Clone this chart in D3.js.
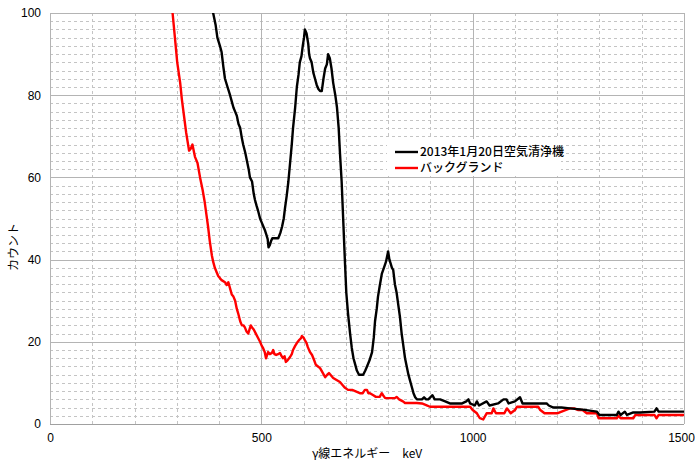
<!DOCTYPE html>
<html>
<head>
<meta charset="utf-8">
<script src="https://cdn.jsdelivr.net/npm/d3@7/dist/d3.min.js"></script>
<style>
  html, body { margin: 0; padding: 0; background: #fff; }
  svg { display: block; }
</style>
</head>
<body>
<svg id="chart" width="695" height="464"></svg>
<script>
// Gamma-ray spectrum: air purifier filter sample vs. background
const sampleLabel = "2013年1月20日空気清浄機";
const bgLabel = "バックグランド";

const sampleKeV = [370, 386, 392, 396, 402, 406, 410, 414, 420, 426, 430, 434, 438, 442, 446, 450, 454, 457, 462, 466, 470, 473, 478, 482, 485, 489, 492, 497, 501, 505, 509, 512, 515, 517, 520, 523, 526, 528, 534, 540, 545, 549, 553, 556, 560, 564, 568, 572, 575, 580, 584, 588, 591, 595, 598, 601, 603, 607, 611, 613, 615, 619, 623, 627, 631, 635, 639, 643, 647, 651, 655, 658, 662, 666, 670, 675, 679, 683, 686, 690, 694, 698, 701, 705, 710, 714, 718, 722, 726, 731, 736, 741, 746, 750, 756, 762, 766, 769, 773, 776, 780, 785, 790, 795, 800, 803, 806, 809, 812, 816, 820, 824, 828, 832, 836, 840, 844, 848, 852, 856, 860, 864, 868, 880, 885, 890, 895, 905, 910, 915, 923, 935, 946, 960, 975, 985, 990, 994, 1005, 1010, 1015, 1033, 1040, 1060, 1073, 1080, 1085, 1100, 1112, 1118, 1140, 1160, 1175, 1180, 1191, 1210, 1230, 1260, 1294, 1300, 1341, 1345, 1350, 1360, 1365, 1380, 1396, 1430, 1435, 1440, 1470, 1500];
const sampleCounts = [106, 100, 97, 94, 92, 90.5, 87, 84, 82, 80, 78.5, 77, 76, 75, 73, 72, 69.5, 68, 66, 64, 62, 60, 59, 56, 54.5, 53, 52, 50, 49, 48, 47, 46, 45, 43, 43.5, 44.5, 45.2, 45.2, 45.2, 45.2, 46.5, 48, 50, 52.5, 55.5, 59, 63.5, 68, 72, 77, 82, 85, 88, 89.5, 92, 94, 96, 95, 92.5, 90, 89, 88, 85.5, 84, 82.5, 81.5, 81, 81, 84, 86.5, 87.5, 90, 89, 86.5, 83, 80, 77, 72, 66, 59, 49, 39, 32, 27, 22, 18.5, 16, 14.5, 13, 12, 12, 12, 13, 14, 15.5, 17.5, 21, 25, 28, 31, 33.5, 36.5, 38, 39.5, 42, 40, 39, 38, 37.5, 34, 32, 29, 26, 22, 19, 16, 14, 12, 10.5, 9, 7.5, 6.5, 6, 6, 6.5, 6, 6, 7, 6, 6, 6, 5.5, 5, 5, 5, 5.5, 6, 5, 4.5, 5.5, 4.5, 5.5, 4.5, 5, 6, 6, 5, 5.5, 6.5, 5, 5, 5, 5, 4.5, 4, 4, 3.8, 3.5, 3, 2.2, 2.2, 3, 2.2, 3, 2.2, 2.8, 2.8, 3, 3.8, 3, 3, 3];

const bgKeV = [280, 290, 296, 301, 308, 312, 317, 322, 329, 333, 337, 341, 343, 349, 355, 361, 366, 370, 374, 378, 383, 386, 390, 394, 398, 406, 414, 418, 422, 426, 430, 434, 438, 442, 445, 450, 454, 458, 461, 465, 469, 472, 475, 478, 482, 487, 492, 497, 501, 504, 508, 511, 516, 520, 525, 528, 531, 535, 540, 544, 548, 551, 555, 558, 562, 568, 572, 575, 580, 584, 590, 594, 596, 600, 603, 607, 610, 615, 620, 625, 629, 634, 639, 645, 651, 656, 660, 665, 670, 678, 686, 692, 698, 705, 715, 722, 733, 740, 745, 750, 753, 757, 765, 771, 780, 785, 788, 793, 805, 816, 820, 826, 835, 840, 855, 868, 880, 890, 899, 920, 950, 975, 994, 1000, 1010, 1017, 1025, 1033, 1045, 1049, 1055, 1075, 1081, 1090, 1100, 1105, 1120, 1140, 1155, 1160, 1170, 1200, 1230, 1240, 1250, 1260, 1270, 1294, 1298, 1320, 1341, 1345, 1350, 1380, 1385, 1430, 1435, 1440, 1500];
const bgCounts = [104, 100, 93.5, 88, 83, 79, 75, 71, 66.5, 67, 68, 66, 65, 63.5, 60, 57, 54, 51, 48, 44.5, 41, 39.5, 38, 37, 36, 35, 34.5, 33.8, 34.5, 33, 31.5, 31, 30, 28, 27, 25, 24, 24, 23.5, 22.5, 22, 23, 24, 23.5, 23, 22, 21, 20, 19, 18.5, 17.5, 16, 17.5, 17, 17.3, 18, 17, 16.8, 17, 17.3, 16.5, 16, 16.5, 15.1, 15.5, 16.3, 17, 18, 19, 19.7, 20.5, 20.9, 21.4, 21, 20.4, 19.7, 18.7, 17.5, 16.8, 15.5, 14.4, 14, 13.6, 12.5, 11.4, 12, 12.4, 11.8, 11.2, 10.7, 10.2, 9.5, 8.8, 8.3, 8.3, 8, 7.5, 7.5, 8.3, 8.3, 7.5, 7.5, 7, 6.6, 6.6, 7.5, 7, 6.3, 6.3, 6.3, 6.6, 6, 5.5, 5.1, 5.1, 5.1, 5, 4.6, 4.2, 4.2, 4.2, 4.2, 4.2, 3.4, 2.6, 1.4, 1.1, 2.6, 2.6, 3.8, 2.6, 2.6, 3.8, 2.6, 3.4, 4.2, 4.2, 4.2, 4.2, 3.4, 2.6, 2.6, 3.8, 3.8, 3.4, 3.4, 2.6, 2.6, 1.4, 1.4, 1.4, 2, 1.4, 1.4, 2.2, 2.2, 1.4, 2.2, 2.2];

const xTickValues = [0, 500, 1000, 1500];
const yTickValues = [0, 20, 40, 60, 80, 100];
const xTitle = "γ線エネルギー　keV";
const yTitle = "カウント";

const svg = d3.select("#chart");
const plotLeft = 50, plotRight = 684, plotTop = 13, plotBottom = 424;

const x = d3.scaleLinear().domain([0, 1500]).range([plotLeft, plotRight]);
const y = d3.scaleLinear().domain([0, 100]).range([plotBottom, plotTop]);

const numFont = "'Liberation Sans', Arial, sans-serif";
const jpFont = "'Noto Sans CJK JP', sans-serif";
const px = v => Math.round(v) + 0.5;

// minor grid (dashed)
const g = svg.append("g");
g.selectAll("line.hmin")
  .data(d3.range(2, 100, 2).filter(v => v % 20 !== 0))
  .join("line")
  .attr("x1", plotLeft).attr("x2", plotRight)
  .attr("y1", d => px(y(d))).attr("y2", d => px(y(d)))
  .attr("stroke", "#c4c4c4").attr("stroke-width", 1).attr("stroke-dasharray", "3,3");
g.selectAll("line.vmin")
  .data(d3.range(100, 1500, 100).filter(v => v % 500 !== 0))
  .join("line")
  .attr("x1", d => px(x(d))).attr("x2", d => px(x(d)))
  .attr("y1", plotTop).attr("y2", plotBottom)
  .attr("stroke", "#c4c4c4").attr("stroke-width", 1).attr("stroke-dasharray", "3,3");

// major grid (solid)
g.selectAll("line.hmaj")
  .data(d3.range(20, 101, 20))
  .join("line")
  .attr("x1", plotLeft).attr("x2", plotRight)
  .attr("y1", d => px(y(d))).attr("y2", d => px(y(d)))
  .attr("stroke", "#b4b4b4").attr("stroke-width", 1);
g.selectAll("line.vmaj")
  .data([0, 500, 1000, 1500])
  .join("line")
  .attr("x1", d => px(x(d))).attr("x2", d => px(x(d)))
  .attr("y1", plotTop).attr("y2", plotBottom)
  .attr("stroke", "#b4b4b4").attr("stroke-width", 1);
// bottom axis line
g.append("line")
  .attr("x1", plotLeft).attr("x2", plotRight)
  .attr("y1", px(y(0))).attr("y2", px(y(0)))
  .attr("stroke", "#a0a0a0").attr("stroke-width", 1.2);

// axes via d3 (labels only)
const xAxis = svg.append("g")
  .attr("transform", `translate(0,${plotBottom})`)
  .call(d3.axisBottom(x).tickValues(xTickValues).tickSize(0).tickPadding(9).tickFormat(d3.format("d")));
xAxis.select(".domain").remove();
xAxis.selectAll("text").attr("font-family", numFont).attr("font-size", 12).attr("fill", "#000");
// keep the last label inside the page edge
xAxis.selectAll("text").filter(d => d === 1500).attr("dx", "-3");

const yAxis = svg.append("g")
  .attr("transform", `translate(${plotLeft},0)`)
  .call(d3.axisLeft(y).tickValues(yTickValues).tickSize(0).tickPadding(9).tickFormat(d3.format("d")));
yAxis.select(".domain").remove();
yAxis.selectAll("text").attr("font-family", numFont).attr("font-size", 12).attr("fill", "#000");

// axis titles
svg.append("text")
  .attr("x", (plotLeft + plotRight) / 2).attr("y", 458)
  .attr("text-anchor", "middle")
  .attr("font-family", jpFont).attr("font-size", 12)
  .text(xTitle);
svg.append("text")
  .attr("transform", "translate(18,247) rotate(-90)")
  .attr("text-anchor", "middle")
  .attr("font-family", jpFont).attr("font-size", 12)
  .text(yTitle);

// clip to plot area
svg.append("clipPath").attr("id", "plot-clip")
  .append("rect").attr("x", plotLeft).attr("y", plotTop)
  .attr("width", plotRight - plotLeft).attr("height", plotBottom - plotTop);

const line = d3.line().x(d => x(d[0])).y(d => y(d[1]));
const plot = svg.append("g").attr("clip-path", "url(#plot-clip)");

plot.append("path")
  .datum(d3.zip(bgKeV, bgCounts))
  .attr("d", line)
  .attr("fill", "none").attr("stroke", "#ff0000").attr("stroke-width", 2.4)
  .attr("stroke-linejoin", "round");
plot.append("path")
  .datum(d3.zip(sampleKeV, sampleCounts))
  .attr("d", line)
  .attr("fill", "none").attr("stroke", "#000").attr("stroke-width", 2.4)
  .attr("stroke-linejoin", "round");

// legend
const lg = svg.append("g");
lg.append("rect").attr("x", 387).attr("y", 139).attr("width", 174).attr("height", 37).attr("fill", "#fff");
const legendItems = [[sampleLabel, "#000"], [bgLabel, "#ff0000"]];
legendItems.forEach(([label, color], i) => {
  const ly = 152 + i * 16;
  lg.append("line").attr("x1", 395).attr("x2", 418).attr("y1", ly).attr("y2", ly)
    .attr("stroke", color).attr("stroke-width", 2.4);
  lg.append("text").attr("x", 420).attr("y", ly).attr("dy", "0.36em")
    .attr("font-family", jpFont).attr("font-size", 12).attr("font-weight", 500)
    .text(label);
});
</script>
</body>
</html>
